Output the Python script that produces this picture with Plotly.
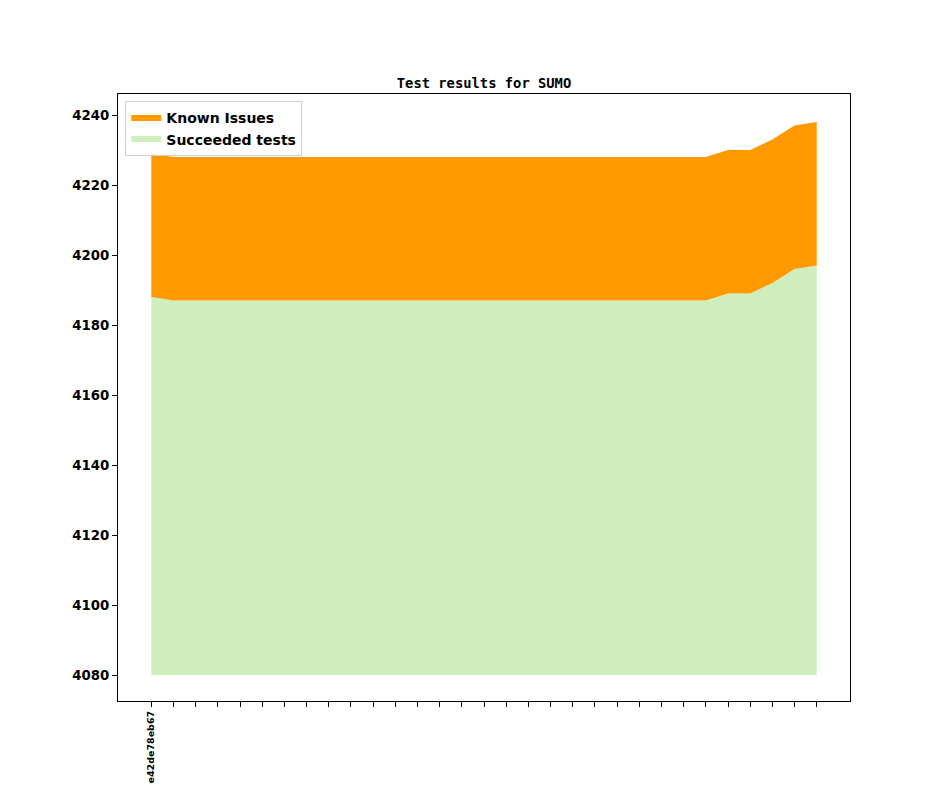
import plotly.graph_objects as go

commits = ["e42de78eb67"] + [""] * 30
succeeded = [4188] + [4187] * 25 + [4189, 4189, 4192, 4196, 4197]
known_issues = [41] * 31
baseline = 4080

x = list(range(len(commits)))
top = [s + k for s, k in zip(succeeded, known_issues)]

fig = go.Figure()
fig.add_trace(go.Scatter(x=x, y=[baseline] * len(x), mode="lines",
                         line=dict(width=0, color="rgba(0,0,0,0)"),
                         showlegend=False, hoverinfo="skip"))
fig.add_trace(go.Scatter(x=x, y=succeeded, mode="none", fill="tonexty",
                         fillcolor="#ceeebe", name="Succeeded tests", legendrank=2))
fig.add_trace(go.Scatter(x=x, y=top, mode="none", fill="tonexty",
                         fillcolor="#ff9900", name="Known Issues", legendrank=1))

axis_common = dict(showline=True, linecolor="black", linewidth=1.2, mirror=True,
                   ticks="outside", ticklen=5, tickwidth=1, tickcolor="black",
                   showgrid=False, zeroline=False)

fig.update_layout(
    width=944, height=787,
    margin=dict(l=110, r=102, t=86, b=87),
    paper_bgcolor="white", plot_bgcolor="white",
    title=dict(text="Test results for SUMO", x=0.5, xanchor="center", xref="paper",
               y=1, yanchor="bottom", yref="paper", pad=dict(b=6),
               font=dict(family="DejaVu Sans Mono", size=13.8, color="black", weight="bold")),
    xaxis=dict(range=[-1.5, 31.5], tickmode="array", tickvals=x, ticktext=commits,
               tickangle=-90, tickfont=dict(family="DejaVu Sans", size=9.5, color="black", weight="bold"),
               **axis_common),
    yaxis=dict(range=[4072.6, 4246], tickmode="array", tickvals=list(range(4080, 4241, 20)),
               tickfont=dict(family="DejaVu Sans", size=13.3, color="black", weight="bold"),
               **axis_common),
    legend=dict(x=0.01, y=0.988, xanchor="left", yanchor="top",
                bordercolor="#d0d0d0", borderwidth=1, bgcolor="rgba(255,255,255,0.8)",
                font=dict(family="DejaVu Sans", size=14, color="black", weight="bold"),
                traceorder="normal"),
    showlegend=True,
)

fig.write_html("out.html")
